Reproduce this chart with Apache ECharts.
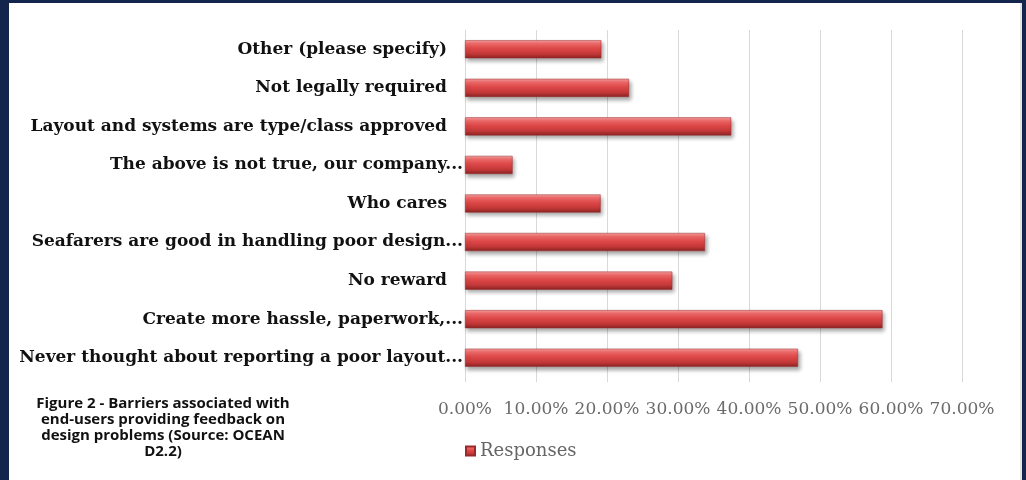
<!DOCTYPE html>
<html>
<head>
<meta charset="utf-8">
<script src="https://cdn.jsdelivr.net/npm/echarts@6/dist/echarts.min.js"></script>
<style>
  html, body {
    margin: 0;
    padding: 0;
    width: 1026px;
    height: 480px;
    background: #13244d;
    overflow: hidden;
  }
  .panel {
    position: absolute;
    left: 9px;
    top: 3px;
    width: 1011px;
    height: 477px;
    background: #ffffff;
    border-right: 2px solid #e4e4e4;
  }
  #chart {
    width: 100%;
    height: 100%;
  }
</style>
</head>
<body>
<div class="panel"><div id="chart"></div></div>
<script>
// 分类（从上到下）
const categories = [
  'Other (please specify)',
  'Not legally required',
  'Layout and systems are type/class approved',
  'The above is not true, our company...',
  'Who cares',
  'Seafarers are good in handling poor design...',
  'No reward',
  'Create more hassle, paperwork,...',
  'Never thought about reporting a poor layout...'
]

// 百分比
const responses = [19.2, 23.1, 37.5, 6.7, 19.1, 33.8, 29.2, 58.8, 46.9]

const seriesName = 'Responses'
const caption = 'Figure 2 - Barriers associated with\nend-users providing feedback on\ndesign problems (Source: OCEAN\nD2.2)'

const chart = echarts.init(document.getElementById('chart'))

const barColor = new echarts.graphic.LinearGradient(0, 0, 0, 1, [
  { offset: 0, color: '#f5a0a0' },
  { offset: 0.18, color: '#f26c6c' },
  { offset: 0.45, color: '#de4848' },
  { offset: 0.75, color: '#c43838' },
  { offset: 1, color: '#8a2323' }
])

const option = {
  animation: false,
  title: {
    text: caption,
    left: 149,
    top: 388,
    textAlign: 'center',
    textStyle: {
      fontFamily: 'Open Sans',
      fontWeight: 'bold',
      fontSize: 15,
      lineHeight: 16,
      color: '#111'
    }
  },
  legend: {
    data: [seriesName],
    left: 451,
    top: 434,
    icon: 'rect',
    itemWidth: 9,
    itemHeight: 9,
    itemGap: 4,
    textStyle: {
      fontFamily: 'DejaVu Serif',
      fontSize: 18,
      color: '#666'
    }
  },
  grid: {
    left: 456,
    top: 27,
    width: 497,
    height: 347
  },
  xAxis: {
    type: 'value',
    min: 0,
    max: 70,
    interval: 10,
    axisLine: { show: false },
    axisTick: {
      show: true,
      length: 5,
      lineStyle: { color: '#d9d9d9' }
    },
    splitLine: {
      show: true,
      lineStyle: { color: '#d9d9d9', width: 1 }
    },
    axisLabel: {
      margin: 24,
      fontFamily: 'DejaVu Serif',
      fontSize: 17,
      color: '#6b6b6b',
      formatter: (v) => v.toFixed(2) + '%'
    }
  },
  yAxis: {
    type: 'category',
    data: categories,
    inverse: true,
    axisLine: {
      show: true,
      lineStyle: { color: '#d9d9d9' }
    },
    axisTick: { show: false },
    axisLabel: {
      margin: 2,
      formatter: (v) => v.endsWith('...') ? '{e|' + v + '}' : '{n|' + v + '}',
      rich: {
        e: {
          fontFamily: 'DejaVu Serif',
          fontWeight: 'bold',
          fontSize: 17,
          color: '#111'
        },
        n: {
          fontFamily: 'DejaVu Serif',
          fontWeight: 'bold',
          fontSize: 17,
          color: '#111',
          padding: [0, 16, 0, 0]
        }
      }
    }
  },
  series: [
    {
      name: seriesName,
      type: 'bar',
      data: responses,
      barWidth: '47%',
      itemStyle: {
        color: barColor,
        borderColor: '#9a2a2a',
        borderWidth: 0.5,
        shadowColor: 'rgba(0, 0, 0, 0.35)',
        shadowBlur: 4,
        shadowOffsetX: 2,
        shadowOffsetY: 3
      }
    }
  ]
}

chart.setOption(option)
</script>
</body>
</html>
